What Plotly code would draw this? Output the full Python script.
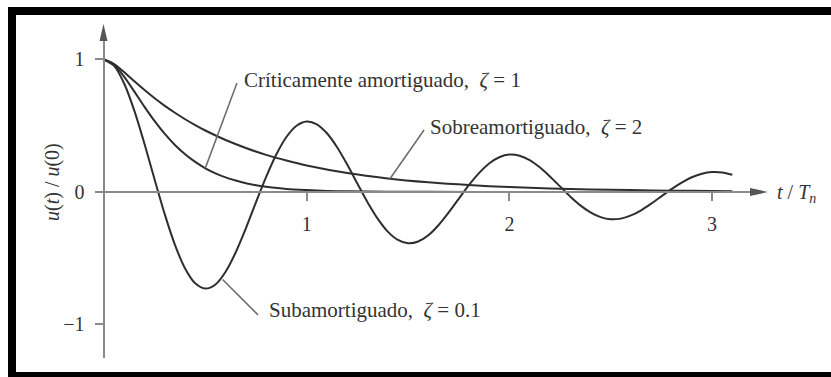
import plotly.graph_objects as go

# Free vibration response u(t)/u(0) for three damping levels (t in units of T_n)
tau_sub = [0.00, 0.05, 0.10, 0.15, 0.20, 0.25, 0.30, 0.35, 0.40, 0.45,
           0.50, 0.55, 0.60, 0.65, 0.70, 0.75, 0.80, 0.85, 0.90, 0.95,
           1.00, 1.05, 1.10, 1.15, 1.20, 1.25, 1.30, 1.35, 1.40, 1.45,
           1.50, 1.55, 1.60, 1.65, 1.70, 1.75, 1.80, 1.85, 1.90, 1.95,
           2.00, 2.05, 2.10, 2.15, 2.20, 2.25, 2.30, 2.35, 2.40, 2.45,
           2.50, 2.55, 2.60, 2.65, 2.70, 2.75, 2.80, 2.85, 2.90, 2.95,
           3.00, 3.05, 3.10]
u_sub = [1.000, 0.952, 0.817, 0.612, 0.362, 0.093, -0.169, -0.399, -0.577, -0.689,
         -0.729, -0.698, -0.602, -0.455, -0.274, -0.077, 0.114, 0.283, 0.415, 0.500,
         0.532, 0.511, 0.443, 0.338, 0.207, 0.064, -0.077, -0.201, -0.299, -0.362,
         -0.387, -0.374, -0.327, -0.251, -0.156, -0.052, 0.051, 0.142, 0.215, 0.262,
         0.282, 0.274, 0.241, 0.186, 0.117, 0.042, -0.034, -0.101, -0.154, -0.190,
         -0.206, -0.201, -0.177, -0.138, -0.088, -0.033, 0.022, 0.071, 0.111, 0.138,
         0.150, 0.147, 0.130]

tau_crit = [0.00, 0.05, 0.10, 0.15, 0.20, 0.25, 0.30, 0.35, 0.40, 0.45, 0.50, 0.55,
            0.60, 0.65, 0.70, 0.75, 0.80, 0.90, 1.00, 1.10, 1.20, 1.40, 1.60, 2.00,
            2.50, 3.10]
u_crit = [1.000, 0.960, 0.869, 0.757, 0.642, 0.534, 0.438, 0.355, 0.285, 0.227, 0.179, 0.141,
          0.110, 0.086, 0.066, 0.051, 0.040, 0.023, 0.014, 0.008, 0.005, 0.002, 0.001, 0.000,
          0.000, 0.000]

tau_over = [0.00, 0.05, 0.10, 0.15, 0.20, 0.25, 0.30, 0.35, 0.40, 0.45, 0.50, 0.60,
            0.70, 0.80, 0.90, 1.00, 1.20, 1.40, 1.60, 1.80, 2.00, 2.20, 2.40, 2.60,
            2.80, 3.00, 3.10]
u_over = [1.000, 0.966, 0.903, 0.835, 0.769, 0.707, 0.650, 0.598, 0.549, 0.505, 0.464, 0.392,
          0.332, 0.280, 0.237, 0.200, 0.143, 0.102, 0.073, 0.052, 0.037, 0.027, 0.019, 0.014,
          0.010, 0.007, 0.006]

x_tickvals = [1, 2, 3]
x_ticktext = ["1", "2", "3"]
y_tickvals = [-1, 0, 1]
y_ticktext = ["\u22121", "0", "1"]

W, H = 831, 377
CURVE = "#2e2e2e"
AXIS = "#8a8a8a"
TEXT = "#333333"
SERIF = "Liberation Serif, Times New Roman, serif"


def px(x):
    return x / W


def py(y):
    return 1 - y / H


fig = go.Figure()
for xs, ys in [(tau_over, u_over), (tau_crit, u_crit), (tau_sub, u_sub)]:
    fig.add_trace(go.Scatter(x=xs, y=ys, mode="lines",
                             line=dict(color=CURVE, width=2, shape="spline", smoothing=0.8),
                             hoverinfo="skip"))

fig.update_layout(
    width=W, height=H,
    margin=dict(l=0, r=0, t=0, b=0),
    paper_bgcolor="white", plot_bgcolor="rgba(0,0,0,0)",
    showlegend=False,
    font=dict(family=SERIF, color=TEXT),
    xaxis=dict(domain=[px(95), px(752)], range=[-0.0444, 3.197],
               anchor="free", position=py(192),
               showline=True, linecolor=AXIS, linewidth=2,
               ticks="outside", ticklen=8, tickwidth=1.5, tickcolor=AXIS,
               tickvals=x_tickvals, ticktext=x_ticktext,
               tickfont=dict(family=SERIF, size=20, color=TEXT),
               ticklabelstandoff=6,
               showgrid=False, zeroline=False),
    yaxis=dict(domain=[py(358), py(40)], range=[-1.253, 1.147],
               anchor="free", position=px(103.5), side="left",
               showline=True, linecolor=AXIS, linewidth=2,
               ticks="outside", ticklen=8, tickwidth=1.5, tickcolor=AXIS,
               tickvals=y_tickvals, ticktext=y_ticktext,
               tickfont=dict(family=SERIF, size=20, color=TEXT),
               ticklabelstandoff=6,
               showgrid=False, zeroline=False),
)

shapes = [
    # black frame
    dict(type="rect", xref="paper", yref="paper",
         x0=px(12), x1=px(860), y0=py(376), y1=py(11),
         line=dict(color="black", width=8), fillcolor="rgba(0,0,0,0)"),
    # axis arrowheads
    dict(type="path", xref="paper", yref="paper",
         path=f"M {px(103.5)} {py(24)} L {px(99.5)} {py(41)} L {px(107.5)} {py(41)} Z",
         fillcolor="#555555", line=dict(width=0)),
    dict(type="path", xref="paper", yref="paper",
         path=f"M {px(768)} {py(192)} L {px(750)} {py(188)} L {px(750)} {py(196)} Z",
         fillcolor="#555555", line=dict(width=0)),
    # leader lines
    dict(type="line", xref="x", yref="y", x0=0.656, y0=0.823, x1=0.50, y1=0.18,
         line=dict(color="#6a6a6a", width=1.5)),
    dict(type="line", xref="x", yref="y", x0=1.579, y0=0.468, x1=1.411, y1=0.10,
         line=dict(color="#6a6a6a", width=1.5)),
    dict(type="line", xref="x", yref="y", x0=0.585, y0=-0.66, x1=0.760, y1=-0.928,
         line=dict(color="#6a6a6a", width=1.5)),
]
fig.update_layout(shapes=shapes)

labels = [
    (0.681, 0.845, "Críticamente amortiguado,\u00a0 <i>ζ</i> = 1"),
    (1.598, 0.49, "Sobreamortiguado,\u00a0 <i>ζ</i> = 2"),
    (0.804, -0.89, "Subamortiguado,\u00a0 <i>ζ</i> = 0.1"),
]
for x, y, t in labels:
    fig.add_annotation(x=x, y=y, xref="x", yref="y", text=t, showarrow=False,
                       xanchor="left", yanchor="middle",
                       font=dict(family=SERIF, size=21, color=TEXT))

fig.add_annotation(x=px(775), y=py(193), xref="paper", yref="paper",
                   text="<i>t</i> / <i>T<sub>n</sub></i>", showarrow=False,
                   xanchor="left", yanchor="middle",
                   font=dict(family=SERIF, size=20, color=TEXT))
fig.add_annotation(x=px(52), y=py(182), xref="paper", yref="paper",
                   text="<i>u</i>(<i>t</i>) / <i>u</i>(0)", showarrow=False,
                   textangle=-90, xanchor="center", yanchor="middle",
                   font=dict(family=SERIF, size=20, color=TEXT))

fig.write_html("out.html")
